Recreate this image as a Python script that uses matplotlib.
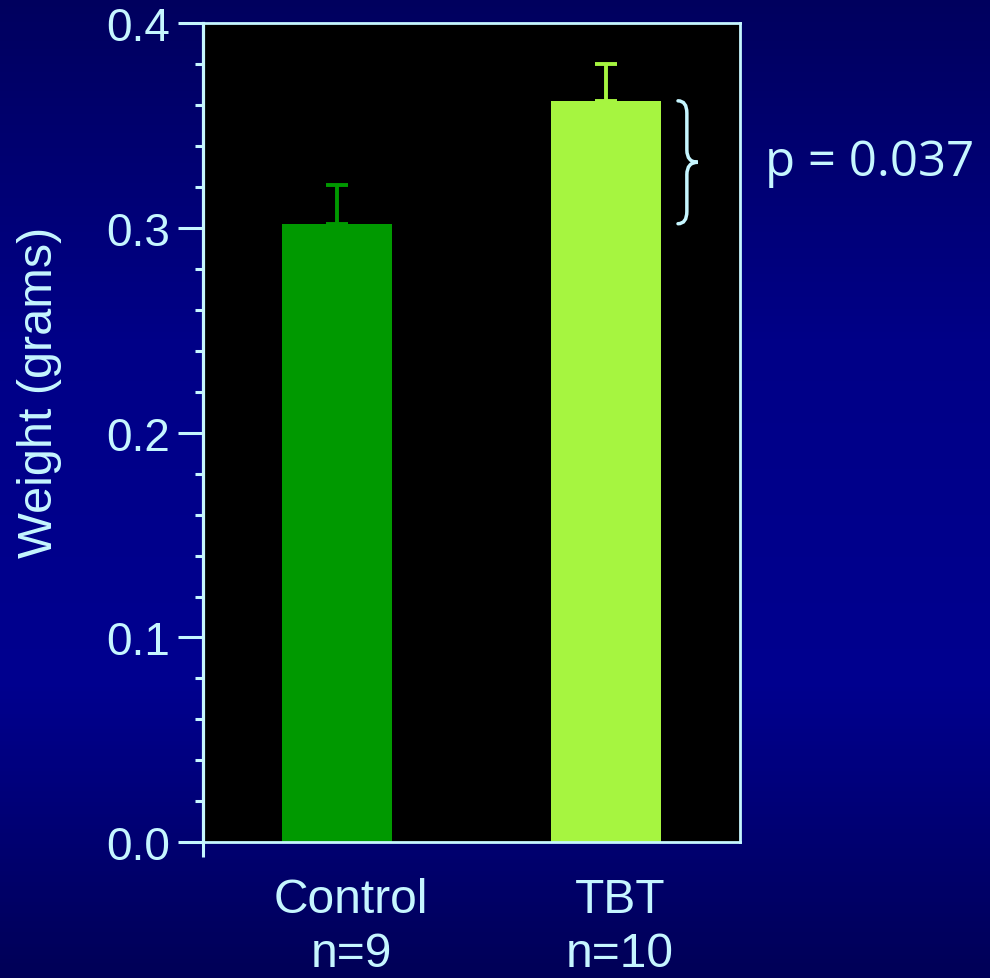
import matplotlib
matplotlib.use("Agg")
import matplotlib.pyplot as plt
import matplotlib.transforms as mtransforms
import numpy as np
from matplotlib.path import Path
from matplotlib.patches import PathPatch
from matplotlib.colors import LinearSegmentedColormap

# Data
groups = ["Control\nn=9", "TBT\nn=10"]
weights = [0.302, 0.362]
sem = [0.019, 0.018]
bar_colors = ["#009900", "#a6f540"]
p_label = "p = 0.037"

text_color = "#c6f6ff"

fig = plt.figure(figsize=(9.9, 9.79), dpi=100)

# Vertical blue gradient behind everything
bg = fig.add_axes([0, 0, 1, 1], zorder=-10)
bg_cmap = LinearSegmentedColormap.from_list(
    "slide_bg",
    [(0.0, (0, 0, 0.37)), (0.35, (0, 0, 0.53)), (0.7, (0, 0, 0.56)), (1.0, (0, 0, 0.34))],
)
grad = np.linspace(0, 1, 256).reshape(-1, 1)
bg.imshow(grad, aspect="auto", cmap=bg_cmap, extent=[0, 1, 0, 1], origin="upper")
bg.set_axis_off()

ax = fig.add_axes([0.2051, 0.1386, 0.5424, 0.8369])
ax.set_facecolor("black")

x = np.arange(len(groups))
ax.bar(x, weights, width=0.41, color=bar_colors, zorder=2)
for xi, w, e, c in zip(x, weights, sem, bar_colors):
    ax.errorbar(xi, w, yerr=[[0], [e]], fmt="none", ecolor=c,
                elinewidth=2.8, capsize=7.8, capthick=2.8, zorder=3)

ax.set_xlim(-0.5, 1.5)
ax.set_ylim(0, 0.4)

ax.set_yticks([0.0, 0.1, 0.2, 0.3, 0.4])
ax.set_yticklabels(["0.0", "0.1", "0.2", "0.3", "0.4"])
ax.set_yticks(np.arange(0, 0.4001, 0.02), minor=True)
ax.tick_params(axis="y", which="major", length=18, width=2.2, color=text_color,
               labelcolor=text_color, labelsize=33, pad=6)
ax.tick_params(axis="y", which="minor", length=6, width=2.2, color=text_color)
for lab in ax.get_yticklabels():
    lab.set_family("Liberation Sans")

ax.set_xticks(x)
ax.set_xticklabels(groups, family="Liberation Sans", linespacing=1.27)
ax.set_xticks([-0.5], minor=True)
ax.tick_params(axis="x", which="major", length=0, labelcolor=text_color,
               labelsize=34.5, pad=25)
ax.tick_params(axis="x", which="minor", length=11, width=2.2, color=text_color)
shift = mtransforms.ScaledTranslation(14 / 100, 0, fig.dpi_scale_trans)
for lab in ax.get_xticklabels():
    lab.set_transform(lab.get_transform() + shift)

for sp in ax.spines.values():
    sp.set_color(text_color)
    sp.set_linewidth(2.0)
ax.spines["left"].set_linewidth(2.3)

ax.set_ylabel("Weight (grams)", color=text_color, fontsize=35,
              family="Liberation Sans")
ax.yaxis.set_label_coords(-0.262, 0.55)

# Curly brace joining the two bar tops
x_end, x_arm, x_tip = 1.269, 1.302, 1.343
y_top, y_bot = weights[1], weights[0]
y_mid = (y_top + y_bot) / 2
r = 0.006
verts = [
    (x_end, y_top), (x_arm, y_top), (x_arm, y_top - r),
    (x_arm, y_mid + r), (x_arm, y_mid), (x_tip, y_mid),
    (x_arm, y_mid), (x_arm, y_mid - r),
    (x_arm, y_bot + r), (x_arm, y_bot), (x_end, y_bot),
]
codes = [Path.MOVETO, Path.CURVE3, Path.CURVE3,
         Path.LINETO, Path.CURVE3, Path.CURVE3,
         Path.CURVE3, Path.CURVE3,
         Path.LINETO, Path.CURVE3, Path.CURVE3]
ax.add_patch(PathPatch(Path(verts, codes), fill=False, edgecolor=text_color,
                       linewidth=2.5, capstyle="round", zorder=4))

fig.text(765 / 990, 1 - 176 / 979, p_label, color=text_color, fontsize=35.5,
         family="Open Sans", ha="left", va="baseline")

fig.savefig("out.png", dpi=100)
